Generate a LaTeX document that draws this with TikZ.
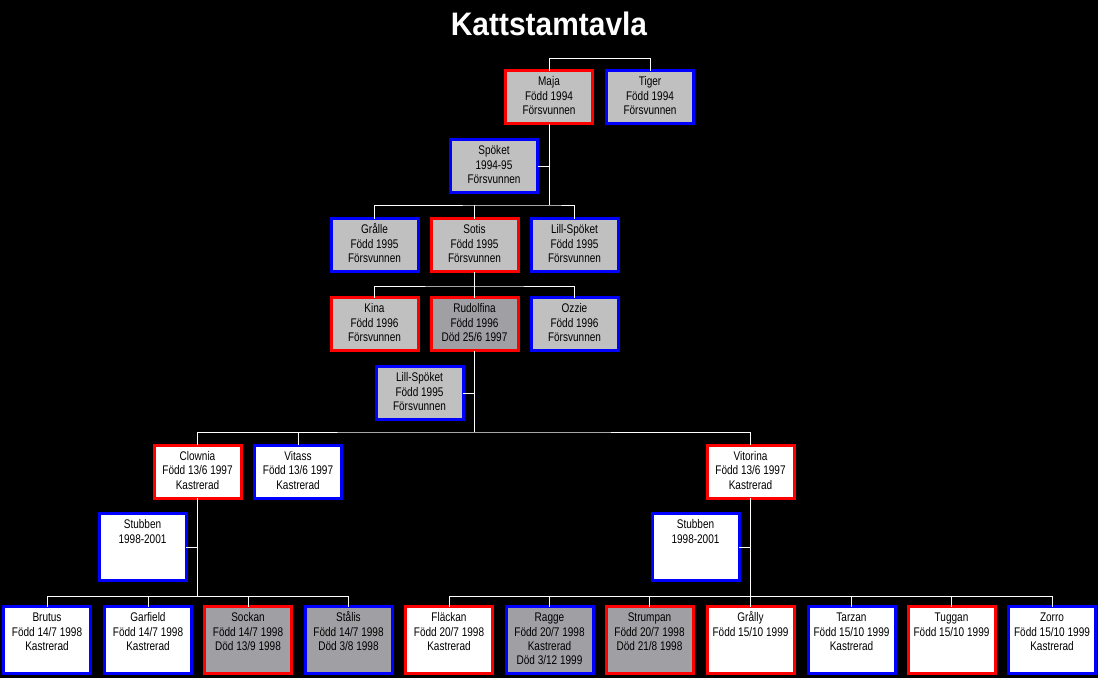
\documentclass[tikz,border=0pt]{standalone}
\usepackage{fontspec}
\setmainfont{Liberation Sans}[FakeStretch=0.8]
\newfontfamily\titelfont{Liberation Sans}[FakeStretch=0.92]
\usepackage{xcolor}
\usetikzlibrary{calc,positioning}

\definecolor{ljusgra}{HTML}{C0C0C0}
\definecolor{morkgra}{HTML}{A0A0A4}

% textruta: toppjusterad text i en ruta med fast storlek
\newcommand{\katt}[2][39.75pt]{%
  \parbox[t][#1][t]{65.25pt}{\centering\fontsize{9.4pt}{10.7pt}\selectfont
    \rule{0pt}{11.6pt}#2}}
\newcommand{\hog}{50.25pt}

\begin{document}
\begin{tikzpicture}[x=0.75pt, y=-0.75pt,
    katt/.style={draw, line width=2.25pt, inner sep=0pt, outer sep=0pt},
    hona/.style={katt, draw=red},
    hane/.style={katt, draw=blue},
    borta/.style={fill=ljusgra},
    dod/.style={fill=morkgra},
    vit/.style={fill=white},
    link/.style={white, line width=0.75pt}]

    % bakgrund och storlek
    \fill[black] (0,0) rectangle (1098,678);
    \useasboundingbox (0,0) rectangle (1098,678);

    % rubrik
    \node[white, anchor=base, font=\titelfont\bfseries\fontsize{24.4pt}{28pt}\selectfont]
        (titel) at (549,35) {Kattstamtavla};

    % första generationen
    \node[hona, borta] (maja) at (549,97) {\katt{Maja\\Född 1994\\Försvunnen}};
    \node[hane, borta] (tiger) at (650,97) {\katt{Tiger\\Född 1994\\Försvunnen}};
    \node[hane, borta] (spoket) at (494,166) {\katt{Spöket\\1994-95\\Försvunnen}};

    % andra generationen
    \node[hane, borta] (gralle) at (374.5,245) {\katt{Grålle\\Född 1995\\Försvunnen}};
    \node[hona, borta] (sotis) at (474.5,245) {\katt{Sotis\\Född 1995\\Försvunnen}};
    \node[hane, borta] (lillspoket) at (574.5,245) {\katt{Lill-Spöket\\Född 1995\\Försvunnen}};

    % tredje generationen
    \node[hona, borta] (kina) at (374.5,324) {\katt{Kina\\Född 1996\\Försvunnen}};
    \node[hona, dod] (rudolfina) at (474.5,324) {\katt{Rudolfina\\Född 1996\\Död 25/6 1997}};
    \node[hane, borta] (ozzie) at (574.5,324) {\katt{Ozzie\\Född 1996\\Försvunnen}};
    \node[hane, borta] (lillspoket2) at (419.5,393) {\katt{Lill-Spöket\\Född 1995\\Försvunnen}};

    % fjärde generationen
    \node[hona, vit] (clownia) at (197.5,471.5) {\katt{Clownia\\Född 13/6 1997\\Kastrerad}};
    \node[hane, vit] (vitass) at (298,471.5) {\katt{Vitass\\Född 13/6 1997\\Kastrerad}};
    \node[hona, vit] (vitorina) at (750.5,471.5) {\katt{Vitorina\\Född 13/6 1997\\Kastrerad}};
    \node[hane, vit] (stubben) at (142.5,547) {\katt[\hog]{Stubben\\1998-2001}};
    \node[hane, vit] (stubben2) at (695.5,547) {\katt[\hog]{Stubben\\1998-2001}};

    % femte generationen
    \node[hane, vit] (brutus) at (47,640) {\katt[\hog]{Brutus\\Född 14/7 1998\\Kastrerad}};
    \node[hane, vit] (garfield) at (148,640) {\katt[\hog]{Garfield\\Född 14/7 1998\\Kastrerad}};
    \node[hona, dod] (sockan) at (248,640) {\katt[\hog]{Sockan\\Född 14/7 1998\\Död 13/9 1998}};
    \node[hane, dod] (stalis) at (348.5,640) {\katt[\hog]{Stålis\\Född 14/7 1998\\Död 3/8 1998}};
    \node[hona, vit] (flackan) at (449,640) {\katt[\hog]{Fläckan\\Född 20/7 1998\\Kastrerad}};
    \node[hane, dod] (ragge) at (549.5,640) {\katt[\hog]{Ragge\\Född 20/7 1998\\Kastrerad\\Död 3/12 1999}};
    \node[hona, dod] (strumpan) at (649.5,640) {\katt[\hog]{Strumpan\\Född 20/7 1998\\Död 21/8 1998}};
    \node[hona, vit] (grally) at (750.5,640) {\katt[\hog]{Grålly\\Född 15/10 1999}};
    \node[hane, vit] (tarzan) at (851.5,640) {\katt[\hog]{Tarzan\\Född 15/10 1999\\Kastrerad}};
    \node[hona, vit] (tuggan) at (951.5,640) {\katt[\hog]{Tuggan\\Född 15/10 1999}};
    \node[hane, vit] (zorro) at (1052,640) {\katt[\hog]{Zorro\\Född 15/10 1999\\Kastrerad}};

    % förgreningspunkter
    \coordinate (g1) at (549,205);
    \coordinate (g2) at (474.5,286);
    \coordinate (g3) at (474.5,432);
    \coordinate (g4) at (197.5,596);
    \coordinate (g5) at (750.5,596);

    % linjer
    \draw[link] (maja.north) -- ++(0,-12) -| (tiger.north);
    \draw[link] (maja.south) -- (g1);
    \draw[link] (spoket.east) -- (spoket.east -| g1);
    \draw[link] (gralle.north) |- (g1) -| (lillspoket.north);
    \draw[link] (sotis.north) -- (sotis.north |- g1);

    \draw[link] (sotis.south) -- (rudolfina.north);
    \draw[link] (kina.north) |- (g2) -| (ozzie.north);

    \draw[link] (rudolfina.south) -- (g3);
    \draw[link] (lillspoket2.east) -- (lillspoket2.east -| g3);
    \draw[link] (clownia.north) |- (g3) -| (vitorina.north);
    \draw[link] (vitass.north) -- (vitass.north |- g3);

    \draw[link] (clownia.south) -- (g4);
    \draw[link] (stubben.east) -- (stubben.east -| g4);
    \draw[link] (brutus.north) |- (g4) -| (stalis.north);
    \foreach \n in {garfield, sockan}
        \draw[link] (\n.north) -- (\n.north |- g4);

    \draw[link] (vitorina.south) -- (grally.north);
    \draw[link] (stubben2.east) -- (stubben2.east -| g5);
    \draw[link] (flackan.north) |- (g5) -| (zorro.north);
    \foreach \n in {ragge, strumpan, tarzan, tuggan}
        \draw[link] (\n.north) -- (\n.north |- g5);
\end{tikzpicture}
\end{document}
